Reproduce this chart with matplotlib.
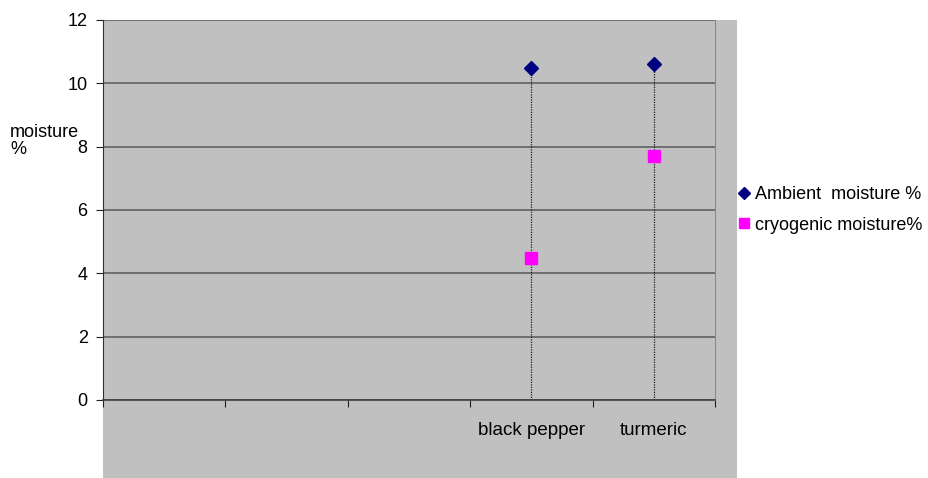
import numpy as np
import matplotlib.pyplot as plt
from matplotlib.patches import Rectangle

plt.rcParams['font.family'] = ['Liberation Sans', 'DejaVu Sans']

categories = ['', '', '', 'black pepper', 'turmeric']
ambient = [None, None, None, 10.5, 10.6]
cryogenic = [None, None, None, 4.5, 7.7]
yticks = [0, 2, 4, 6, 8, 10, 12]

fig = plt.figure(figsize=(9.29, 4.78), dpi=100)
# grey backdrop that also runs under the category labels
fig.patches.append(Rectangle((103 / 929, 0), (737 - 103) / 929, 458 / 478,
                             transform=fig.transFigure, facecolor='#c0c0c0',
                             edgecolor='none', zorder=-5))
ax = fig.add_axes([103 / 929, 78 / 478, 612 / 929, 380 / 478])
ax.set_facecolor('#c0c0c0')

x = np.arange(len(categories))
xa = [i for i, v in zip(x, ambient) if v is not None]
ya = [v for v in ambient if v is not None]
xc = [i for i, v in zip(x, cryogenic) if v is not None]
yc = [v for v in cryogenic if v is not None]

# drop lines from the highest point down to the axis
for i, a, c in zip(xa, ya, yc):
    ax.plot([i, i], [0, max(a, c)], color='#202020', lw=0.9, ls=(0, (1, 1)), zorder=2)

ax.plot(xa, ya, ls='none', marker='D', ms=7, color='#000080',
        label='Ambient  moisture %', zorder=3)
ax.plot(xc, yc, ls='none', marker='s', ms=8, color='#ff00ff',
        label='cryogenic moisture%', zorder=3)

ax.set_xlim(-0.5, len(categories) - 0.5)
ax.set_ylim(0, 12)
ax.set_yticks(yticks)
ax.set_yticklabels([str(t) for t in yticks], fontsize=13)
ax.yaxis.grid(True, color='#606060', lw=1.2)
ax.set_axisbelow(True)

ax.set_xticks(np.arange(len(categories) + 1) - 0.5)
ax.set_xticklabels([])
ax.set_xticks(x, minor=True)
ax.set_xticklabels(categories, minor=True, fontsize=13.5)
ax.tick_params(axis='x', which='minor', length=0, pad=16)
ax.tick_params(axis='x', which='major', length=5, direction='out', color='#202020')
ax.tick_params(axis='y', length=5, direction='out', color='#202020', pad=6)

ax.spines['left'].set_color('#303030')
ax.spines['bottom'].set_color('#404040')
ax.spines['bottom'].set_linewidth(1.2)
ax.spines['top'].set_visible(False)
ax.spines['right'].set_color('#8a8a8a')

fig.text(10 / 929, 1 - 141 / 478, 'moisture\n%', fontsize=13, ha='left', va='center',
         linespacing=1.0)

fig.legend(loc='center left', bbox_to_anchor=(731 / 929, 1 - 210 / 478), frameon=False,
           fontsize=13, handlelength=0.6, handletextpad=0.35, labelspacing=0.75,
           borderaxespad=0, markerscale=0.9)

fig.savefig('out.png', dpi=100)
